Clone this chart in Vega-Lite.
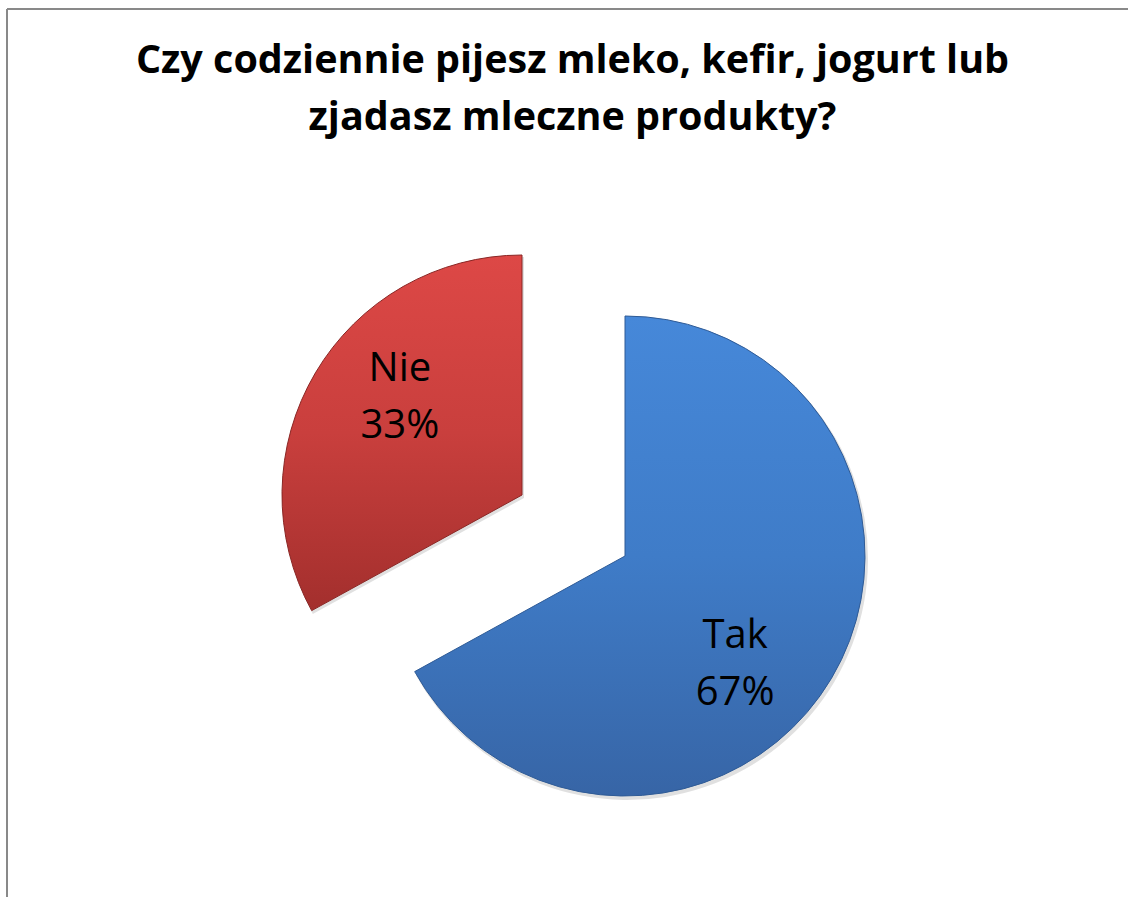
{
  "$schema": "https://vega.github.io/schema/vega-lite/v6.json",
  "width": 1121,
  "height": 888,
  "padding": {"left": 7, "top": 9, "right": 0, "bottom": 0},
  "autosize": {"type": "none"},
  "background": "white",
  "view": {"stroke": "#898989", "strokeWidth": 2, "strokeDash": [1121, 2009, 888, 0]},
  "title": {
    "text": ["Czy codziennie pijesz mleko, kefir, jogurt lub", "zjadasz mleczne produkty?"],
    "font": "Open Sans",
    "fontWeight": "bold",
    "fontSize": 39.5,
    "lineHeight": 57,
    "color": "black",
    "anchor": "middle",
    "offset": -129,
    "dx": 5
  },
  "data": {
    "values": [
      {"cat": "Tak", "value": 67, "label": "Tak\n67%"},
      {"cat": "Nie", "value": 33, "label": "Nie\n33%"}
    ]
  },
  "encoding": {
    "theta": {"field": "value", "type": "quantitative", "stack": true},
    "order": {"field": "value", "type": "quantitative", "sort": "descending"},
    "detail": {"field": "cat", "type": "nominal"}
  },
  "layer": [
    {
      "mark": {"type": "arc", "radius": 241, "xOffset": 59.5, "yOffset": 106, "fill": "#000000", "fillOpacity": 0.12},
      "encoding": {
        "opacity": {"condition": {"test": "datum.cat === 'Tak'", "value": 1}, "value": 0}
      }
    },
    {
      "mark": {"type": "arc", "radius": 241, "xOffset": -43.5, "yOffset": 45, "fill": "#000000", "fillOpacity": 0.12},
      "encoding": {
        "opacity": {"condition": {"test": "datum.cat === 'Nie'", "value": 1}, "value": 0}
      }
    },
    {
      "mark": {
        "type": "arc", "radius": 240, "xOffset": 57.5, "yOffset": 103,
        "fill": {"gradient": "linear", "x1": 0, "y1": 0, "x2": 0, "y2": 1,
          "stops": [{"offset": 0, "color": "#4688d9"}, {"offset": 0.5, "color": "#3f7cc8"}, {"offset": 1, "color": "#3765a6"}]},
        "stroke": "#2f5b96", "strokeWidth": 1
      },
      "encoding": {
        "opacity": {"condition": {"test": "datum.cat === 'Tak'", "value": 1}, "value": 0}
      }
    },
    {
      "mark": {
        "type": "arc", "radius": 240, "xOffset": -45.5, "yOffset": 42,
        "fill": {"gradient": "linear", "x1": 0, "y1": 0, "x2": 0, "y2": 1,
          "stops": [{"offset": 0, "color": "#dd4846"}, {"offset": 0.5, "color": "#c93f3d"}, {"offset": 1, "color": "#a32f2d"}]},
        "stroke": "#8a2624", "strokeWidth": 1
      },
      "encoding": {
        "opacity": {"condition": {"test": "datum.cat === 'Nie'", "value": 1}, "value": 0}
      }
    },
    {
      "mark": {
        "type": "text", "xOffset": 57.5, "yOffset": 103, "dx": -19, "dy": 4,
        "font": "Open Sans", "fontSize": 40, "lineHeight": 57, "lineBreak": "\n",
        "color": "black", "align": "center", "baseline": "middle"
      },
      "encoding": {
        "radius": {"value": 150},
        "text": {"field": "label", "type": "nominal"},
        "opacity": {"condition": {"test": "datum.cat === 'Tak'", "value": 1}, "value": 0}
      }
    },
    {
      "mark": {
        "type": "text", "xOffset": -45.5, "yOffset": 42, "dx": 7, "dy": -50,
        "font": "Open Sans", "fontSize": 40, "lineHeight": 57, "lineBreak": "\n",
        "color": "black", "align": "center", "baseline": "middle"
      },
      "encoding": {
        "radius": {"value": 150},
        "text": {"field": "label", "type": "nominal"},
        "opacity": {"condition": {"test": "datum.cat === 'Nie'", "value": 1}, "value": 0}
      }
    }
  ]
}
